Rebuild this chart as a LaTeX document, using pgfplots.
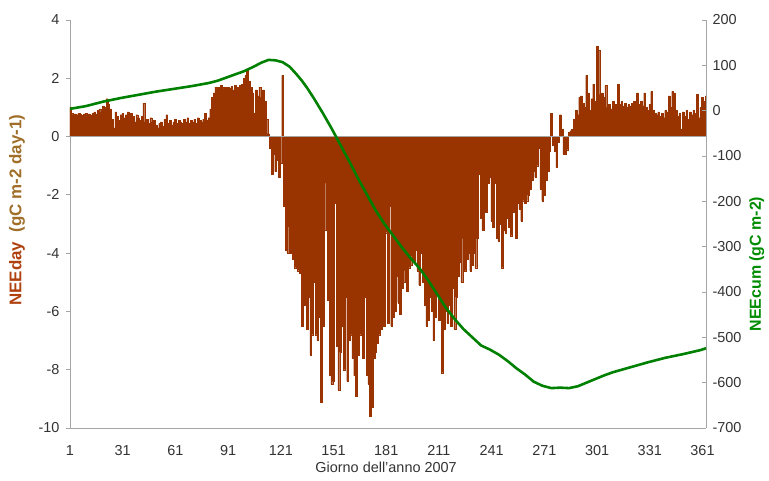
\documentclass[border=0pt]{standalone}
\usepackage{pgfplots}
\pgfplotsset{compat=1.18}
\usepackage{fontspec}
\setmainfont{Liberation Sans}
\definecolor{brn}{RGB}{153,51,0}
\definecolor{brnlab}{RGB}{175,65,15}
\definecolor{tanlab}{RGB}{160,110,40}
\definecolor{grn}{RGB}{0,128,0}
\definecolor{grnlab}{RGB}{0,140,0}
\definecolor{axgray}{RGB}{165,165,165}
\begin{document}
\begin{tikzpicture}
\path[use as bounding box] (-70bp,-53bp) rectangle (699bp,428bp);
\begin{axis}[
  scale only axis, width=636bp, height=408bp,
  xmin=1, xmax=363, ymin=-10, ymax=4,
  axis x line*=bottom, axis y line*=left,
  axis line style={axgray, line width=0.8pt},
  xtick={1,31,...,361}, ytick={-10,-8,...,4},
  xtick style={draw=none},
  ytick style={axgray, line width=0.8pt},
  tickwidth=4bp, tick align=outside,
  /pgf/number format/assume math mode=true,
  tick label style={font=\fontsize{14.5}{17}\selectfont, text=black!80},
  xticklabel style={yshift=-10bp},
  yticklabel style={xshift=-3bp},
  xlabel={Giorno dell'anno 2007},
  xlabel style={font=\fontsize{14.5}{17}\selectfont, text=black!80, at={(axis description cs:0.497,-0.0956)}, anchor=center},
  ylabel={\textcolor{brnlab}{NEEday}\ \ \textcolor{tanlab}{(gC m-2 day-1)}},
  ylabel style={font=\bfseries\fontsize{17}{19}\selectfont, at={(axis description cs:-0.0833,0.534)}, anchor=center, rotate=0},
  clip=true,
]
\addplot[ybar, bar width=1, fill=brn, draw=brn, line width=0.25pt] coordinates {
(1,1.0)(2,0.8)(3,0.75)(4,0.78)(5,0.75)(6,0.8)(7,0.77)(8,0.74)(9,0.78)(10,0.8)
(11,0.76)(12,0.78)(13,0.72)(14,0.8)(15,0.85)(16,0.78)(17,0.9)(18,0.95)(19,0.85)(20,1.05)
(21,1.0)(22,1.3)(23,1.1)(24,0.95)(25,0.6)(26,0.3)(27,0.85)(28,0.7)(29,0.55)(30,0.75)
(31,0.8)(32,0.65)(33,0.75)(34,0.85)(35,0.6)(36,0.8)(37,0.7)(38,0.5)(39,0.75)(40,0.65)
(41,0.55)(42,0.7)(43,1.15)(44,0.5)(45,0.6)(46,0.45)(47,0.65)(48,0.5)(49,0.55)(50,0.4)
(51,0.3)(52,0.45)(53,0.5)(54,0.35)(55,0.6)(56,0.75)(57,0.45)(58,0.55)(59,0.4)(60,0.5)
(61,0.6)(62,0.45)(63,0.55)(64,0.5)(65,0.45)(66,0.6)(67,0.5)(68,0.65)(69,0.45)(70,0.55)
(71,0.5)(72,0.6)(73,0.45)(74,0.65)(75,0.55)(76,0.5)(77,0.6)(78,0.8)(79,0.55)(80,0.65)
(81,0.95)(82,1.35)(83,1.5)(84,1.7)(85,1.65)(86,1.7)(87,1.75)(88,1.7)(89,1.65)(90,1.7)
(91,1.7)(92,1.65)(93,1.72)(94,1.6)(95,1.75)(96,1.7)(97,1.65)(98,1.75)(99,1.8)(100,2.0)
(101,2.1)(102,2.3)(103,1.9)(104,1.7)(105,1.5)(106,0.8)(107,1.6)(108,1.4)(109,1.7)(110,1.35)
(111,1.6)(112,1.2)(113,0.6)(114,0.1)(115,-0.4)(116,-1.3)(117,-0.6)(118,-1.2)(119,-0.8)(120,-1.4)
(121,-0.9)(122,2.1)(123,-2.4)(124,-3.9)(125,-4.0)(126,-3.1)(127,-4.0)(128,-4.2)(129,-4.5)(130,-4.3)
(131,-4.6)(132,-4.7)(133,-6.5)(134,-5.2)(135,-5.8)(136,-6.6)(137,-5.5)(138,-7.5)(139,-6.8)(140,-5.0)
(141,-6.8)(142,-7.0)(143,-6.2)(144,-9.1)(145,-6.5)(146,-3.2)(147,-1.6)(148,-5.6)(149,-8.2)(150,-8.5)
(151,-8.4)(152,-2.3)(153,-7.2)(154,-8.7)(155,-7.4)(156,-6.5)(157,-8.0)(158,-5.5)(159,-8.4)(160,-7.0)
(161,-6.8)(162,-7.6)(163,-8.2)(164,-8.9)(165,-7.5)(166,-6.8)(167,-4.5)(168,-7.6)(169,-5.5)(170,-8.2)
(171,-8.5)(172,-9.6)(173,-9.3)(174,-7.6)(175,-7.4)(176,-7.1)(177,-6.8)(178,-6.6)(179,-3.3)(180,-6.5)
(181,-3.3)(182,-6.4)(183,-2.4)(184,-6.5)(185,-6.2)(186,-6.0)(187,-4.8)(188,-5.7)(189,-6.1)(190,-5.2)
(191,-5.0)(192,-4.6)(193,-5.3)(194,-4.5)(195,-4.4)(196,-4.1)(197,-4.3)(198,-3.9)(199,-4.6)(200,-5.1)
(201,-4.0)(202,-5.0)(203,-5.8)(204,-6.5)(205,-6.3)(206,-5.5)(207,-6.0)(208,-7.0)(209,-6.2)(210,-5.4)
(211,-6.3)(212,-4.4)(213,-8.1)(214,-6.6)(215,-6.0)(216,-6.4)(217,-5.8)(218,-6.5)(219,-5.2)(220,-6.6)
(221,-5.5)(222,-4.8)(223,-4.3)(224,-5.0)(225,-3.5)(226,-4.6)(227,-4.2)(228,-4.0)(229,-4.6)(230,-4.4)
(231,-4.0)(232,-4.5)(233,-3.5)(234,-1.3)(235,-2.8)(236,-3.2)(237,-2.2)(238,-2.6)(239,-1.6)(240,-1.4)
(241,-2.9)(242,-3.1)(243,-1.6)(244,-3.5)(245,-3.6)(246,-3.0)(247,-4.5)(248,-3.2)(249,-3.3)(250,-2.8)
(251,-3.1)(252,-3.4)(253,-2.4)(254,-2.6)(255,-3.5)(256,-2.3)(257,-2.5)(258,-2.9)(259,-2.2)(260,-2.3)
(261,-2.2)(262,-2.0)(263,-1.8)(264,-1.5)(265,-1.2)(266,-1.4)(267,-1.0)(268,-0.4)(269,-1.8)(270,-2.2)
(271,-2.0)(272,-1.5)(273,-1.2)(274,-0.5)(275,0.8)(276,-0.3)(277,-0.5)(278,-1.05)(279,-0.2)(280,0.75)
(281,0.25)(282,-0.6)(283,-0.6)(284,-0.45)(285,0.15)(286,0.2)(287,0.25)(288,0.6)(289,0.9)(290,0.75)
(291,1.35)(292,1.4)(293,1.15)(294,1.0)(295,2.1)(296,1.5)(297,0.9)(298,1.3)(299,1.8)(300,1.2)
(301,3.1)(302,2.95)(303,1.45)(304,1.5)(305,1.35)(306,1.75)(307,1.0)(308,1.1)(309,0.95)(310,1.2)
(311,1.0)(312,1.1)(313,1.8)(314,1.1)(315,1.2)(316,1.05)(317,1.15)(318,1.0)(319,1.1)(320,1.05)
(321,1.15)(322,1.2)(323,1.0)(324,1.5)(325,1.1)(326,1.2)(327,1.05)(328,1.5)(329,1.0)(330,0.9)
(331,1.1)(332,1.55)(333,0.9)(334,0.8)(335,0.75)(336,0.85)(337,0.7)(338,0.8)(339,0.65)(340,0.9)
(341,0.85)(342,1.4)(343,1.0)(344,1.55)(345,1.5)(346,0.9)(347,0.7)(348,0.8)(349,0.25)(350,0.85)
(351,0.7)(352,0.9)(353,0.6)(354,0.85)(355,0.75)(356,0.9)(357,0.8)(358,1.45)(359,0.65)(360,1.0)
(361,1.35)(362,1.2)(363,1.4)
};
\addplot[axgray, line width=0.8pt] coordinates {(1,0) (363,0)};
\end{axis}
\begin{axis}[
  scale only axis, width=636bp, height=408bp,
  xmin=1, xmax=363, ymin=-700, ymax=200,
  axis x line=none, axis y line*=right,
  axis line style={axgray, line width=0.8pt},
  ytick={-700,-600,...,200},
  ytick style={axgray, line width=0.8pt},
  tickwidth=4bp, tick align=inside,
  /pgf/number format/assume math mode=true,
  tick label style={font=\fontsize{14.5}{17}\selectfont, text=black!80},
  yticklabel style={xshift=3bp},
  ylabel={NEEcum (gC m-2)},
  ylabel style={font=\bfseries\fontsize{16}{18}\selectfont, text=grnlab, at={(axis description cs:1.080,0.402)}, anchor=center, rotate=0},
]
\addplot[grn, line width=2.6pt, line join=round] coordinates {
(1,4)(10,10)(20,20)(30,28)(40,35)(50,42)(60,48)(70,54)(80,61)(85,66)(90,73)(95,80)(100,87)
(105,96)(110,106)(114,112)(118,111)(122,107)(126,97)(130,80)(133,66)(136,50)(140,26)(145,-6)
(150,-40)(155,-76)(160,-112)(165,-150)(170,-185)(175,-220)(180,-250)(185,-276)(190,-302)
(195,-326)(200,-348)(205,-375)(210,-405)(215,-435)(220,-460)(225,-482)(230,-500)(235,-518)
(240,-527)(245,-538)(250,-552)(255,-568)(260,-582)(265,-598)(270,-607)(275,-612)(280,-611)
(285,-612)(290,-608)(295,-600)(300,-592)(305,-584)(310,-577)(320,-566)(330,-555)(340,-545)
(350,-537)(360,-528)(363,-524)
};
\end{axis}
\end{tikzpicture}
\end{document}
